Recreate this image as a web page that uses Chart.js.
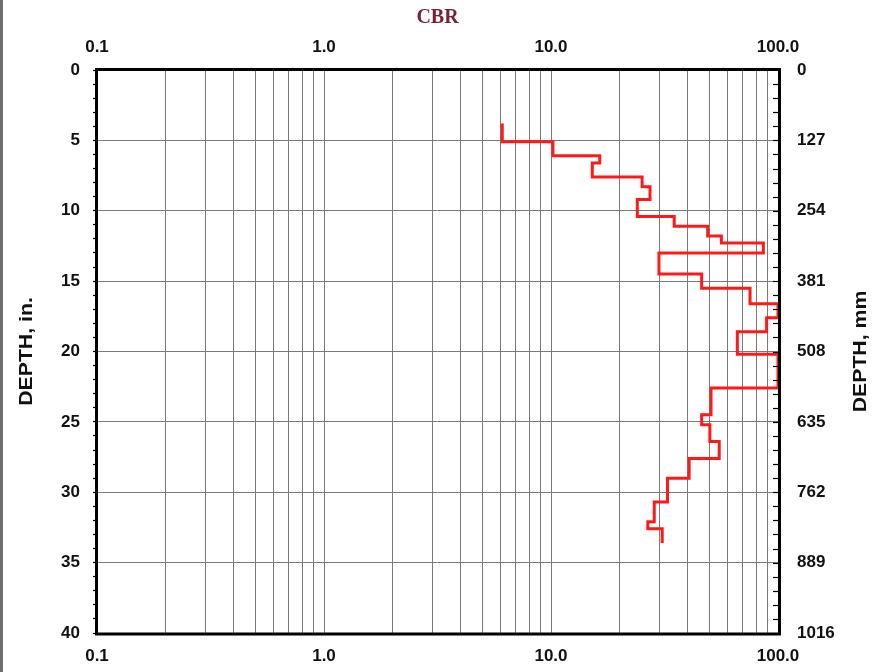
<!DOCTYPE html>
<html>
<head>
<meta charset="utf-8">
<title>CBR vs Depth</title>
<script src="https://cdn.jsdelivr.net/npm/chart.js@4.4.1/dist/chart.umd.min.js"></script>
<style>
  html, body { margin: 0; padding: 0; background: #ffffff; }
  #wrap { position: relative; width: 873px; height: 672px; }
  #edge { position: absolute; left: 0; top: 0; width: 3px; height: 672px; background: #6e6e6e; }
  canvas { display: block; }
</style>
</head>
<body>
<div id="wrap">
  <canvas id="cbr" width="873" height="672"></canvas>
  <div id="edge"></div>
</div>
<script>
// Layer boundaries (depth, in.) and the CBR of each layer between them
const layerDepths = [3.8, 5.1, 6.1, 6.6, 7.6, 8.3, 9.2, 10.4, 11.1, 11.8, 12.3, 13.0,
                     14.5, 15.5, 16.6, 17.6, 18.6, 20.2, 22.6, 24.5, 25.2, 26.4, 27.6,
                     29.0, 30.7, 32.1, 32.6, 33.6];
const layerCBR = [6.1, 10.2, 16.4, 15.2, 25.2, 27.3, 24.0, 34.9, 49.0, 56.3, 86.2,
                  29.9, 46.1, 75.3, 100, 89.1, 66.2, 100, 50.7, 46.1, 50.1, 55.1,
                  40.6, 32.6, 28.5, 26.7, 30.9];

// Axis ranges and labels
const cbrMin = 0.1, cbrMax = 100;
const cbrDecadeLabels = { 0.1: '0.1', 1: '1.0', 10: '10.0', 100: '100.0' };
const depthMinIn = 0, depthMaxIn = 40;
const mmPerInch = 25.4;
const leftTitle = 'DEPTH, in.';
const rightTitle = 'DEPTH, mm';

// Log grid lines at 1..9 x each decade
const cbrGridValues = [];
[0.1, 1, 10].forEach(d => { for (let m = 1; m < 10; m++) cbrGridValues.push(+(d * m).toPrecision(3)); });
cbrGridValues.push(100);

// Step profile: each layer is a vertical run at its CBR
const profile = [];
layerCBR.forEach((c, i) => {
  profile.push({ x: c, y: layerDepths[i] });
  profile.push({ x: c, y: layerDepths[i + 1] });
});

const tickFont = { family: '"Liberation Sans", Arial, sans-serif', size: 17, weight: 'bold' };
const gridGray = '#7a7a7a';

function labelForDecade(v) {
  const key = +(+v).toPrecision(3);
  return cbrDecadeLabels[key] !== undefined ? cbrDecadeLabels[key] : '';
}

function drawVerticalTitle(ctx, text, x, y) {
  ctx.save();
  ctx.translate(x, y);
  ctx.rotate(-Math.PI / 2);
  ctx.scale(1.18, 1);
  ctx.font = 'bold 18px "Liberation Sans", Arial, sans-serif';
  ctx.fillStyle = '#111';
  ctx.textAlign = 'center';
  ctx.textBaseline = 'middle';
  ctx.fillText(text, 0, 0);
  ctx.restore();
}

// Frame, inner tick marks on the right axis and the two depth titles
const framePlugin = {
  id: 'frame',
  afterDatasetsDraw(chart) {
    const { ctx, chartArea: a, scales } = chart;
    ctx.save();
    ctx.strokeStyle = '#000';
    ctx.lineWidth = 1.2;
    for (let v = depthMinIn + 1; v < depthMaxIn; v++) {
      const y = Math.round(scales.y.getPixelForValue(v)) + 0.5;
      ctx.beginPath();
      ctx.moveTo(a.right - 5, y);
      ctx.lineTo(a.right, y);
      ctx.stroke();
    }
    ctx.lineWidth = 3;
    ctx.strokeRect(a.left - 0.5, a.top - 0.5, a.right - a.left + 2, a.bottom - a.top + 1.5);
    ctx.restore();

    const midY = (a.top + a.bottom) / 2;
    drawVerticalTitle(ctx, leftTitle, 27, midY);
    drawVerticalTitle(ctx, rightTitle, 861, midY);
  }
};

new Chart(document.getElementById('cbr'), {
  type: 'scatter',
  data: {
    datasets: [{
      data: profile,
      showLine: true,
      borderColor: '#ff1a1a',
      borderWidth: 3,
      pointRadius: 0,
      tension: 0,
      fill: false
    }]
  },
  options: {
    responsive: false,
    animation: false,
    events: [],
    layout: { padding: 0 },
    plugins: { legend: { display: false }, tooltip: { enabled: false } },
    scales: {
      x: {
        type: 'logarithmic',
        position: 'bottom',
        min: cbrMin, max: cbrMax,
        afterBuildTicks: s => { s.ticks = cbrGridValues.map(v => ({ value: v })); },
        afterFit: s => { s.height = 39; },
        border: { display: false },
        grid: { color: gridGray, lineWidth: 1, drawTicks: false },
        ticks: {
          autoSkip: false, maxRotation: 0, minRotation: 0,
          padding: 13, color: '#111', font: tickFont,
          callback: v => labelForDecade(v)
        }
      },
      x2: {
        type: 'logarithmic',
        position: 'top',
        min: cbrMin, max: cbrMax,
        afterBuildTicks: s => { s.ticks = cbrGridValues.map(v => ({ value: v })); },
        afterFit: s => { s.height = 70; },
        border: { display: false },
        grid: { display: false, drawTicks: false },
        ticks: {
          autoSkip: false, maxRotation: 0, minRotation: 0,
          padding: 12, color: '#111', font: tickFont,
          callback: v => labelForDecade(v)
        },
        title: {
          display: true,
          text: 'CBR',
          color: '#7a1f35',
          font: { family: '"Liberation Serif", "Times New Roman", serif', size: 20, weight: 'bold' },
          padding: { top: 6, bottom: 0 }
        }
      },
      y: {
        type: 'linear',
        position: 'left',
        reverse: true,
        min: depthMinIn, max: depthMaxIn,
        afterFit: s => { s.width = 97; },
        border: { display: false },
        grid: {
          color: c => (c.tick && c.tick.value % 5 === 0) ? gridGray : 'rgba(0,0,0,0)',
          tickColor: '#000',
          tickLength: 4,
          tickWidth: 1.2,
          lineWidth: 1
        },
        ticks: {
          stepSize: 1, autoSkip: false,
          padding: 13, color: '#111', font: tickFont,
          callback: v => (v % 5 === 0 ? String(v) : '')
        }
      },
      y2: {
        type: 'linear',
        position: 'right',
        reverse: true,
        min: depthMinIn, max: depthMaxIn,
        afterFit: s => { s.width = 95; },
        border: { display: false },
        grid: { drawOnChartArea: false, drawTicks: false },
        ticks: {
          stepSize: 5, autoSkip: false,
          padding: 19, color: '#111', font: tickFont,
          callback: v => String(Math.round(v * mmPerInch))
        }
      }
    }
  },
  plugins: [framePlugin]
});
</script>
</body>
</html>
